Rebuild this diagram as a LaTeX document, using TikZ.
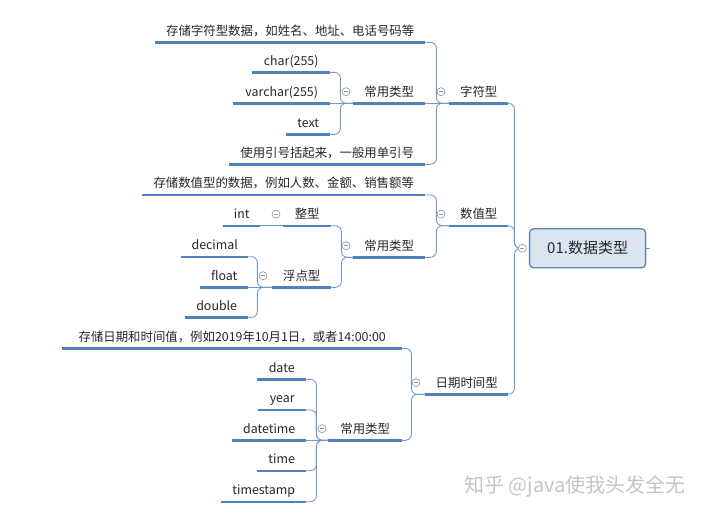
\documentclass[tikz,border=0pt]{standalone}
\usepackage{fontspec}
\newfontfamily\cjk{Noto Sans CJK SC}
\definecolor{lineblue}{RGB}{79,129,189}
\definecolor{connblue}{RGB}{120,152,196}
\definecolor{foldgray}{RGB}{150,150,150}
\definecolor{rootfill}{RGB}{219,229,241}
\definecolor{rootdraw}{RGB}{95,132,180}
\definecolor{ink}{RGB}{38,38,38}
\definecolor{markgray}{RGB}{196,196,196}

\begin{document}
\begin{tikzpicture}[
      x=1pt, y=-1pt,
      topic/.style={anchor=south west, inner xsep=0pt, inner ysep=4.5pt, text height=9.5pt, text depth=2.5pt, font=\cjk\fontsize{12.4pt}{14pt}\selectfont, text=ink},
      uline/.style={draw=lineblue, line width=2.4pt},
      conn/.style={draw=connblue, line width=0.9pt},
      branch/.style={conn, rounded corners=6pt},
      fold/.style={circle, draw=foldgray, fill=white, line width=0.6pt, inner sep=0pt, minimum size=8pt, path picture={\draw[foldgray, line width=0.6pt] ([xshift=2pt]path picture bounding box.west) -- ([xshift=-2pt]path picture bounding box.east);}},
      rootbox/.style={draw=rootdraw, fill=rootfill, rounded corners=4pt, line width=1.3pt, minimum width=116pt, minimum height=39pt, inner sep=0pt, font=\cjk\fontsize{15pt}{18pt}\selectfont, text=ink}
  ]
      \useasboundingbox (0,0) rectangle (720,517);

      % ROOT
      \node[rootbox] (root) at (587.6,248.3) {01.数据类型};
      \coordinate (rj) at ([shift={(-6.6,0)}]root.west);
      \coordinate (rend) at ([shift={(3.5,0)}]root.east);

      % BRANCH 1
      \node[topic, minimum width=59] (zf) at (449,103.3) {字符型};
      \node[topic, minimum width=270] (zfdesc) at (155,42.3) {存储字符型数据，如姓名、地址、电话号码等};
      \node[topic, minimum width=72] (zfuse) at (353,103.3) {常用类型};
      \node[topic, minimum width=196] (zfquote) at (229,164.3) {使用引号括起来，一般用单引号};
      \node[topic, minimum width=78] (chr) at (252,72.3) {char(255)};
      \node[topic, minimum width=97] (vchr) at (233,103.3) {varchar(255)};
      \node[topic, minimum width=44] (ttext) at (286,134.3) {text};

      % BRANCH 2
      \node[topic, minimum width=59] (sz) at (449,225.7) {数值型};
      \node[topic, minimum width=283] (szdesc) at (142,195) {存储数值型的数据，例如人数、金额、销售额等};
      \node[topic, minimum width=72] (szuse) at (353,257.3) {常用类型};
      \node[topic, minimum width=48] (zx) at (283,225.7) {整型};
      \node[topic, minimum width=59] (fd) at (272,287.3) {浮点型};
      \node[topic, minimum width=37] (int) at (223,225.7) {int};
      \node[topic, minimum width=67] (dec) at (181,256.7) {decimal};
      \node[topic, minimum width=48] (flt) at (200,287.3) {float};
      \node[topic, minimum width=63] (dbl) at (185,317.3) {double};

      % BRANCH 3
      \node[topic, minimum width=83] (rq) at (425,394.3) {日期时间型};
      \node[topic, minimum width=340] (rqdesc) at (62,348.3) {存储日期和时间值，例如2019年10月1日，或者14:00:00};
      \node[topic, minimum width=74] (rquse) at (328,440.3) {常用类型};
      \node[topic, minimum width=49] (dat) at (257,379.3) {date};
      \node[topic, minimum width=48] (yr) at (258,410) {year};
      \node[topic, minimum width=74] (dtm) at (232,440.3) {datetime};
      \node[topic, minimum width=49] (tim) at (257,470.7) {time};
      \node[topic, minimum width=85] (tst) at (221,501.7) {timestamp};

      % CONNECTORS
      \draw[branch] (zf.south east) -- ++(6,0) |- (rj);
      \draw[branch] (sz.south east) -- ++(6,0) |- (rj);
      \draw[branch] (rq.south east) -- ++(6,0) |- (rj);
      \draw[conn] (root.east) -- (rend);

      \draw[branch] (zfdesc.south east) -- ++(11,0) |- (zf.south west);
      \draw[conn] (zfuse.south east) -- (zf.south west);
      \draw[branch] (zfquote.south east) -- ++(11,0) |- (zf.south west);
      \draw[branch] (chr.south east) -- ++(10,0) |- (zfuse.south west);
      \draw[conn] (vchr.south east) -- (zfuse.south west);
      \draw[branch] (ttext.south east) -- ++(10,0) |- (zfuse.south west);

      \draw[branch] (szdesc.south east) -- ++(11,0) |- (sz.south west);
      \draw[branch] (szuse.south east) -- ++(11,0) |- (sz.south west);
      \draw[branch] (zx.south east) -- ++(10,0) |- (szuse.south west);
      \draw[branch] (fd.south east) -- ++(10,0) |- (szuse.south west);
      \draw[conn] (int.south east) -- (zx.south west);
      \draw[branch] (dec.south east) -- ++(9,0) |- (fd.south west);
      \draw[conn] (flt.south east) -- (fd.south west);
      \draw[branch] (dbl.south east) -- ++(9,0) |- (fd.south west);

      \draw[branch] (rqdesc.south east) -- ++(9,0) |- (rq.south west);
      \draw[branch] (rquse.south east) -- ++(9,0) |- (rq.south west);
      \draw[branch] (dat.south east) -- ++(10,0) |- (rquse.south west);
      \draw[branch] (yr.south east) -- ++(10,0) |- (rquse.south west);
      \draw[conn] (dtm.south east) -- (rquse.south west);
      \draw[branch] (tim.south east) -- ++(10,0) |- (rquse.south west);
      \draw[branch] (tst.south east) -- ++(10,0) |- (rquse.south west);

      % UNDERLINES
      \foreach \n in {zf,zfdesc,zfuse,zfquote,chr,vchr,ttext,sz,szdesc,szuse,zx,fd,int,dec,flt,dbl,rq,rqdesc,rquse,dat,yr,dtm,tim,tst}
          \draw[uline] (\n.south west) -- (\n.south east);

      % FOLD MARKS
      \node[fold] (froot) at (rj) {};
      \node[fold] (fzf) at ([shift={(-8,-11.6)}]zf.south west) {};
      \node[fold] (fzfuse) at ([shift={(-7,-11.6)}]zfuse.south west) {};
      \node[fold] (fsz) at ([shift={(-8,-11.6)}]sz.south west) {};
      \node[fold] (fszuse) at ([shift={(-7,-11.6)}]szuse.south west) {};
      \node[fold] (fzx) at ([shift={(-7,-11.6)}]zx.south west) {};
      \node[fold] (ffd) at ([shift={(-9,-11.6)}]fd.south west) {};
      \node[fold] (frq) at ([shift={(-9,-11.6)}]rq.south west) {};
      \node[fold] (frquse) at ([shift={(-6,-11.6)}]rquse.south west) {};

      % WATERMARK
      \node[anchor=west, inner sep=0pt, font=\cjk\fontsize{20pt}{24pt}\selectfont, text=markgray] (mark) at (464,486.7) {知乎 @java使我头发全无};
  \end{tikzpicture}
\end{document}
